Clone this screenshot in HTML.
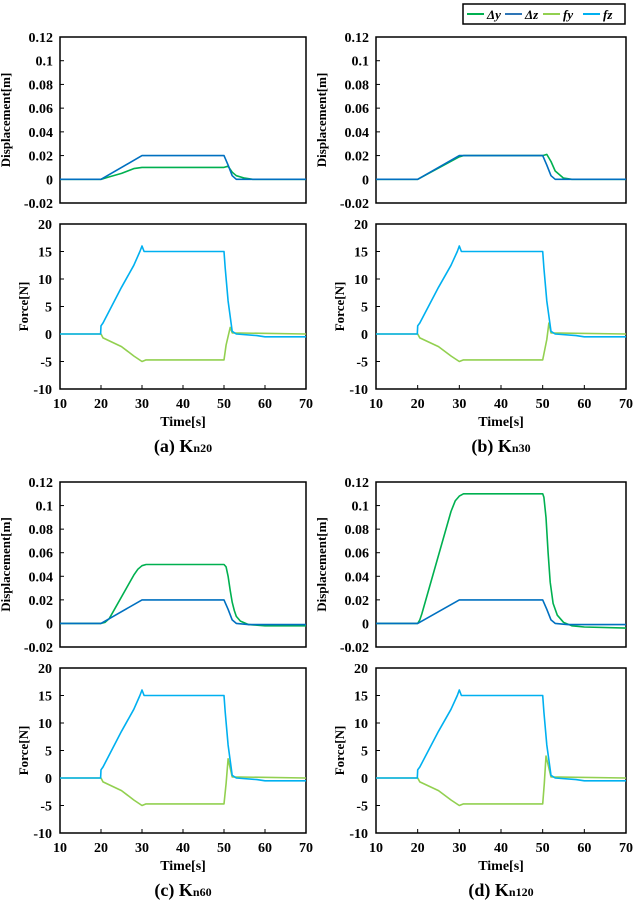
<!DOCTYPE html>
<html><head><meta charset="utf-8"><style>
html,body{margin:0;padding:0;background:#fff;}
svg{display:block;font-family:"Liberation Serif",serif;font-weight:bold;}
</style></head><body>
<svg id="fig" width="634" height="904" viewBox="0 0 634 904">
<g>
<rect x="463" y="4" width="162" height="20" fill="#fff" stroke="#000" stroke-width="1.5"/>
<line x1="467" y1="14" x2="484" y2="14" stroke="#00b050" stroke-width="2"/>
<text x="487" y="19" font-size="13" font-style="italic">Δy</text>
<line x1="505" y1="14" x2="522" y2="14" stroke="#2e75b6" stroke-width="2"/>
<text x="525" y="19" font-size="13" font-style="italic">Δz</text>
<line x1="543" y1="14" x2="560" y2="14" stroke="#92d050" stroke-width="2"/>
<text x="563" y="19" font-size="13" font-style="italic">fy</text>
<line x1="583" y1="14" x2="600" y2="14" stroke="#00b0f0" stroke-width="2"/>
<text x="603" y="19" font-size="13" font-style="italic">fz</text>
</g>
</svg>
<script>
const xTicks=[10,20,30,40,50,60,70];
const dTicks=[-0.02,0,0.02,0.04,0.06,0.08,0.1,0.12];
const dTickLabels=["-0.02","0","0.02","0.04","0.06","0.08","0.1","0.12"];
const fTicks=[-10,-5,0,5,10,15,20];
const captions=["(a) K","(b) K","(c) K","(d) K"];
const captionSubs=["n20","n30","n60","n120"];
const dzA=[[10,0],[20,0],[30,0.02],[50,0.02],[51,0.012],[52,0.003],[53,0],[70,0]];
const dzCD=[[10,0],[20,0],[30,0.02],[50,0.02],[51,0.012],[52,0.003],[53,0],[56,-0.001],[70,-0.001]];
const dyA=[[10,0],[20,0],[22,0.002],[25,0.005],[28,0.009],[30,0.010],[50,0.010],[51,0.011],[52,0.006],[53,0.003],[55,0.001],[57,0],[70,0]];
const dyB=[[10,0],[20,0],[30,0.019],[31,0.02],[50,0.02],[51,0.021],[52,0.015],[53,0.007],[55,0.001],[57,0],[70,0]];
const dyC=[[10,0],[20,0],[21,0.001],[22,0.004],[28,0.041],[29,0.046],[30,0.049],[31,0.05],[50,0.05],[50.5,0.048],[51,0.04],[51.5,0.028],[52,0.018],[52.5,0.011],[53,0.006],[54,0.002],[56,-0.001],[60,-0.002],[70,-0.002]];
const dyD=[[10,0],[20,0],[20.5,0.003],[21,0.008],[28,0.095],[29,0.104],[30,0.108],[31,0.11],[50,0.11],[50.3,0.107],[50.8,0.09],[51.3,0.06],[51.8,0.035],[52.5,0.017],[53.5,0.007],[55,0.001],[57,-0.002],[60,-0.003],[70,-0.004]];
const fzAll=[[10,0],[19.9,0],[20,1.5],[20.5,2],[25,8.5],[28,12.5],[29.5,15],[30,16],[30.5,15],[50,15],[50.3,12],[51,6],[52,0.5],[53,0],[58,-0.3],[60,-0.5],[70,-0.5]];
const fyA=[[10,0],[20,0],[20.5,-0.7],[25,-2.3],[28,-4],[30,-5],[31,-4.7],[50,-4.7],[50.5,-2],[51.5,1.2],[52,0.2],[70,0]];
const fyB=[[10,0],[20,0],[20.5,-0.7],[25,-2.3],[28,-4],[30,-5],[31,-4.7],[50,-4.7],[51,-1],[51.5,2],[52,0.2],[70,0]];
const fyC=[[10,0],[20,0],[20.5,-0.7],[25,-2.3],[28,-4],[30,-5],[31,-4.7],[50,-4.7],[50.5,-1],[51,3.5],[52,0.2],[70,0]];
const fyD=[[10,0],[20,0],[20.5,-0.7],[25,-2.3],[28,-4],[30,-5],[31,-4.7],[50,-4.7],[50.4,-1],[50.8,4],[52,0.2],[70,0]];
const panels=[
 {x0:60,x1:306,dy0:37,dy1:203,fy0:224,fy1:389,cap:452,dz:dzA,dy:dyA,fy:fyA},
 {x0:376,x1:626,dy0:37,dy1:203,fy0:224,fy1:389,cap:452,dz:dzA,dy:dyB,fy:fyB},
 {x0:60,x1:306,dy0:482,dy1:647,fy0:668,fy1:833,cap:896,dz:dzCD,dy:dyC,fy:fyC},
 {x0:376,x1:626,dy0:482,dy1:647,fy0:668,fy1:833,cap:896,dz:dzCD,dy:dyD,fy:fyD}];
const NS="http://www.w3.org/2000/svg";
const svg=document.getElementById('fig');
function mk(tag,attrs,parent,txt){const e=document.createElementNS(NS,tag);for(const k in attrs)e.setAttribute(k,attrs[k]);if(txt!==undefined)e.textContent=txt;parent.appendChild(e);return e;}
panels.forEach((p,i)=>{
 const g=mk('g',{},svg);
 
 
 const sx=t=>p.x0+(t-10)/60*(p.x1-p.x0);
 const sd=v=>p.dy1-(v+0.02)/0.14*(p.dy1-p.dy0);
 const sf=v=>p.fy1-(v+10)/30*(p.fy1-p.fy0);
 const line=(pts,sy,color,name)=>{const e=mk('polyline',{points:pts.map(q=>sx(q[0]).toFixed(1)+','+sy(q[1]).toFixed(1)).join(' '),fill:'none',stroke:color,'stroke-width':1.6,'stroke-linejoin':'round'},g);
  
  };
 const f1=mk('rect',{x:p.x0,y:p.dy0,width:p.x1-p.x0,height:p.dy1-p.dy0,fill:'#fff',stroke:'#000','stroke-width':1.5},g);
 
 
 dTicks.forEach((v,j)=>{const y=sd(v);mk('line',{x1:p.x0,x2:p.x0+4,y1:y,y2:y,stroke:'#000'},g);
  const t=mk('text',{x:p.x0-7,y:y+5,'font-size':14,'text-anchor':'end'},g,dTickLabels[j]);
  
  });
 const yt=mk('text',{transform:`translate(${p.x0-50},${(p.dy0+p.dy1)/2}) rotate(-90)`,'font-size':13,'text-anchor':'middle'},g,'Displacement[m]');
 
 
 line(p.dy,sd,'#00b050','series-delta-y');
 line(p.dz,sd,'#0070c0','series-delta-z');
 const f2=mk('rect',{x:p.x0,y:p.fy0,width:p.x1-p.x0,height:p.fy1-p.fy0,fill:'#fff',stroke:'#000','stroke-width':1.5},g);
 
 
 fTicks.forEach(v=>{const y=sf(v);mk('line',{x1:p.x0,x2:p.x0+4,y1:y,y2:y,stroke:'#000'},g);
  const t=mk('text',{x:p.x0-8,y:y+5,'font-size':14,'text-anchor':'end'},g,String(v));
  
  });
 xTicks.forEach(v=>{const x=sx(v);mk('line',{x1:x,x2:x,y1:p.fy1,y2:p.fy1-4,stroke:'#000'},g);
  const t=mk('text',{x:x,y:p.fy1+19,'font-size':14,'text-anchor':'middle'},g,String(v));
  
  });
 const ft=mk('text',{transform:`translate(${p.x0-32},${(p.fy0+p.fy1)/2}) rotate(-90)`,'font-size':13,'text-anchor':'middle'},g,'Force[N]');
 
 
 const xt=mk('text',{x:(p.x0+p.x1)/2,y:p.fy1+37,'font-size':14,'text-anchor':'middle'},g,'Time[s]');
 
 
 line(p.fy,sf,'#92d050','series-fy');
 line(fzAll,sf,'#00b0f0','series-fz');
 const c=mk('text',{x:(p.x0+p.x1)/2,y:p.cap,'font-size':18,'text-anchor':'middle'},g,captions[i]);
 mk('tspan',{'font-size':12},c,captionSubs[i]);
 
 
});
</script>
</body></html>
